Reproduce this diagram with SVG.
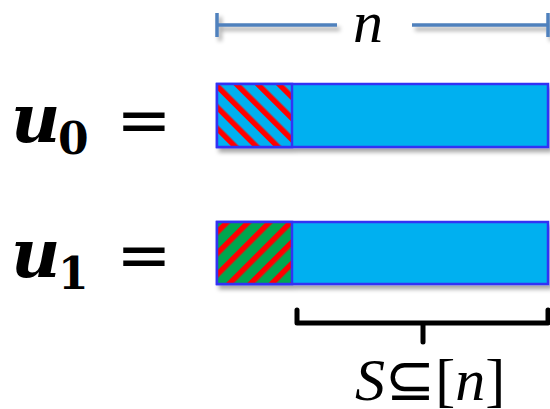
<svg xmlns="http://www.w3.org/2000/svg" width="550" height="409" viewBox="0 0 550 409">
<style>
.bar{stroke:#4F81BD;stroke-width:3.5;fill:none}
.box{fill:#00B0F0;stroke:#3333F5;stroke-width:2.5}
.math{font-family:"Liberation Serif","DejaVu Serif",serif;font-style:italic;font-size:60px;fill:#000}
.u{font-family:"DejaVu Serif",serif;font-style:italic;font-weight:bold;font-size:68px;fill:#000}
.sub{font-family:"DejaVu Serif",serif;font-weight:bold;font-size:44px;fill:#000}
.eq{font-family:"DejaVu Sans",sans-serif;font-size:66px;fill:#000}
.brace{stroke:#000;stroke-width:5;fill:none;stroke-linejoin:round;stroke-linecap:round}
</style>
<defs>
<filter id="sh" x="-10%" y="-20%" width="130%" height="150%">
<feDropShadow dx="3" dy="4" stdDeviation="2" flood-color="#000" flood-opacity="0.35"/>
</filter>
<pattern id="hatchBlue" patternUnits="userSpaceOnUse" width="15" height="15" patternTransform="rotate(-45)">
<rect width="15" height="15" fill="#00B0F0"/>
<rect width="5.5" height="15" fill="#FF0000"/>
</pattern>
<pattern id="hatchGreen" patternUnits="userSpaceOnUse" width="15" height="15" patternTransform="rotate(45)">
<rect width="15" height="15" fill="#00A650"/>
<rect width="5.5" height="15" fill="#FF0000"/>
</pattern>
</defs>

<g id="measure" filter="url(#sh)">
<line class="bar" x1="217" y1="25" x2="337" y2="25"/>
<line class="bar" x1="412" y1="25" x2="548" y2="25"/>
<line class="bar" x1="217" y1="13" x2="217" y2="37"/>
<line class="bar" x1="548" y1="13" x2="548" y2="37"/>
</g>
<text class="math" x="368" y="42" text-anchor="middle">n</text>

<g id="label-u0">
<text class="u" x="11" y="142">u</text>
<text class="sub" x="58" y="154">0</text>
<text class="eq" x="144" y="142" text-anchor="middle">=</text>
</g>
<g id="label-u1">
<text class="u" x="11" y="277">u</text>
<text class="sub" x="58" y="289">1</text>
<text class="eq" x="144" y="277" text-anchor="middle">=</text>
</g>

<g id="u0" filter="url(#sh)">
<rect class="box" x="217" y="84" width="331" height="63"/>
<rect x="217" y="84" width="75" height="63" fill="url(#hatchBlue)" stroke="#3333F5" stroke-width="2.5"/>
</g>
<g id="u1" filter="url(#sh)">
<rect class="box" x="217" y="222" width="331" height="62"/>
<rect x="217" y="222" width="75" height="62" fill="url(#hatchGreen)" stroke="#3333F5" stroke-width="2.5"/>
</g>

<g id="brace">
<path class="brace" d="M297,310 V323 H548 V310 M423,323 V342"/>
</g>
<text class="math" x="355" y="400"><tspan font-style="italic">S</tspan><tspan font-style="normal" font-family="DejaVu Sans">⊆</tspan><tspan font-style="normal">[</tspan><tspan font-style="italic">n</tspan><tspan font-style="normal">]</tspan></text>
</svg>
